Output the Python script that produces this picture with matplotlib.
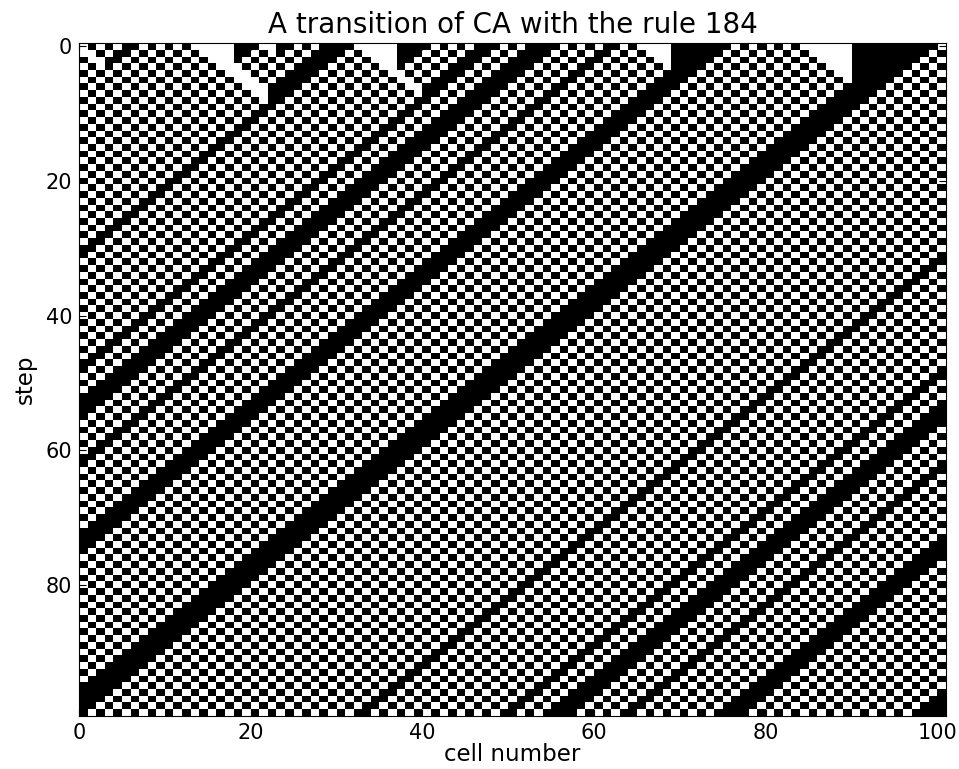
import numpy as np
import matplotlib
matplotlib.use('Agg')
import matplotlib.pyplot as plt

# Regla del automata y numero de pasos
regla = 184
pasos = 100

# Estado inicial (101 celdas)
estado_inicial = ("0101011010101"   # 0-12
                  "00000"           # 13-17
                  "1110011"         # 18-24
                  "0101111"         # 25-31
                  "00000"           # 32-36
                  "111101010"       # 37-45
                  "111010"          # 46-51
                  "111101010"       # 52-60
                  "1101"            # 61-64
                  "0000"            # 65-68
                  "1111111"         # 69-75
                  "01010101"        # 76-83
                  "000000"          # 84-89
                  "1111111111"      # 90-99
                  "0")              # 100

fila = np.array([int(c) for c in estado_inicial])
tabla = np.array([(regla >> i) & 1 for i in range(8)])

historia = [fila]
for t in range(pasos - 1):
    izq = np.roll(fila, 1)
    der = np.roll(fila, -1)
    fila = tabla[4*izq + 2*fila + der]
    historia.append(fila)
historia = np.array(historia)

fig = plt.figure(figsize=(9.59, 7.69), dpi=100)
fig.subplots_adjust(left=0.0824, right=0.9864, top=0.944, bottom=0.069)
ax = fig.add_subplot(111)

ncel = historia.shape[1]
xs = np.arange(ncel + 1)
ys = np.arange(pasos + 1) - 0.5
ax.pcolormesh(xs, ys, historia, cmap='binary', antialiased=True,
              edgecolors='none')
ax.set_xlim(0, ncel)
ax.set_ylim(pasos - 0.5, -0.5)
ax.set_xticks([0, 20, 40, 60, 80, 100])
ax.set_yticks([0, 20, 40, 60, 80])

ax.tick_params(direction='in', top=True, right=True, length=5,
               labelsize=15, pad=5)

plt.title('A transition of CA with the rule 184', fontsize=20, pad=7)
plt.xlabel('cell number', fontsize=16.5, labelpad=0)
plt.ylabel('step', fontsize=16.5, labelpad=6)

fig.savefig('out.png', dpi=100)
